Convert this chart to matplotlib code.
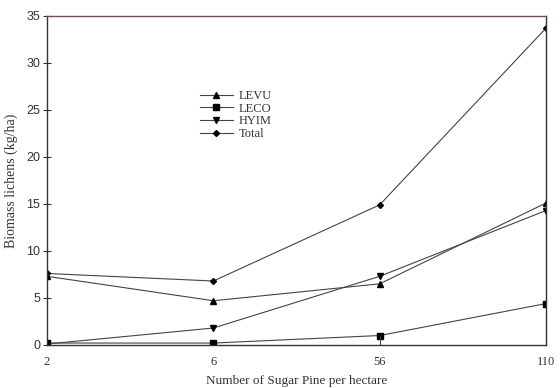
import matplotlib
matplotlib.use("Agg")
import matplotlib.pyplot as plt

categories = ["2", "6", "56", "110"]
levu = [7.3, 4.7, 6.5, 15.1]
leco = [0.2, 0.2, 1.0, 4.4]
hyim = [0.1, 1.8, 7.3, 14.3]
total = [7.6, 6.8, 14.9, 33.7]
yticks = [0, 5, 10, 15, 20, 25, 30, 35]

fig = plt.figure(figsize=(5.6, 3.88), dpi=100)
ax = fig.add_axes([0.084, 0.111, 0.891, 0.848])
x = list(range(len(categories)))
lc = "#444444"
ax.plot(x, levu, color=lc, lw=0.8, marker="^", ms=4, mfc="black", mec="black", label="LEVU")
ax.plot(x, leco, color=lc, lw=0.8, marker="s", ms=4.5, mfc="black", mec="black", label="LECO")
ax.plot(x, hyim, color=lc, lw=0.8, marker="v", ms=4, mfc="black", mec="black", label="HYIM")
ax.plot(x, total, color=lc, lw=0.8, marker="D", ms=3, mfc="black", mec="black", label="Total")
ax.vlines(x[2], 0, leco[2], color=lc, lw=0.8)

ax.set_xlim(0, 3)
ax.set_ylim(0, 35)
ax.set_xticks(x)
ax.set_xticklabels(categories, fontfamily="Liberation Serif", fontsize=9, color="#333333")
ax.set_yticks(yticks)
ax.set_yticklabels([str(v) for v in yticks], fontfamily="Liberation Sans", fontsize=9, color="#333333")
ax.tick_params(axis="x", length=0, pad=8)
ax.tick_params(axis="y", direction="inout", length=6, width=0.8, color="#333333", pad=2)
for s in ax.spines.values():
    s.set_color("#333333")
    s.set_linewidth(1.0)
ax.spines["top"].set_color("#7a4a4a")

ax.set_xlabel("Number of Sugar Pine per hectare", fontfamily="Liberation Serif", fontsize=9.5, color="#333333", labelpad=5)
ax.set_ylabel("Biomass lichens (kg/ha)", fontfamily="Liberation Serif", fontsize=10, color="#333333", labelpad=6)

leg = ax.legend(loc="upper left", bbox_to_anchor=(200/560, 1 - 90/388), bbox_transform=fig.transFigure,
                frameon=False, prop={"family": "Liberation Serif", "size": 9},
                handlelength=2.6, handletextpad=0.5, labelspacing=0.05, borderpad=0, borderaxespad=0)
for t in leg.get_texts():
    t.set_color("#333333")

fig.savefig("out.png", dpi=100)
